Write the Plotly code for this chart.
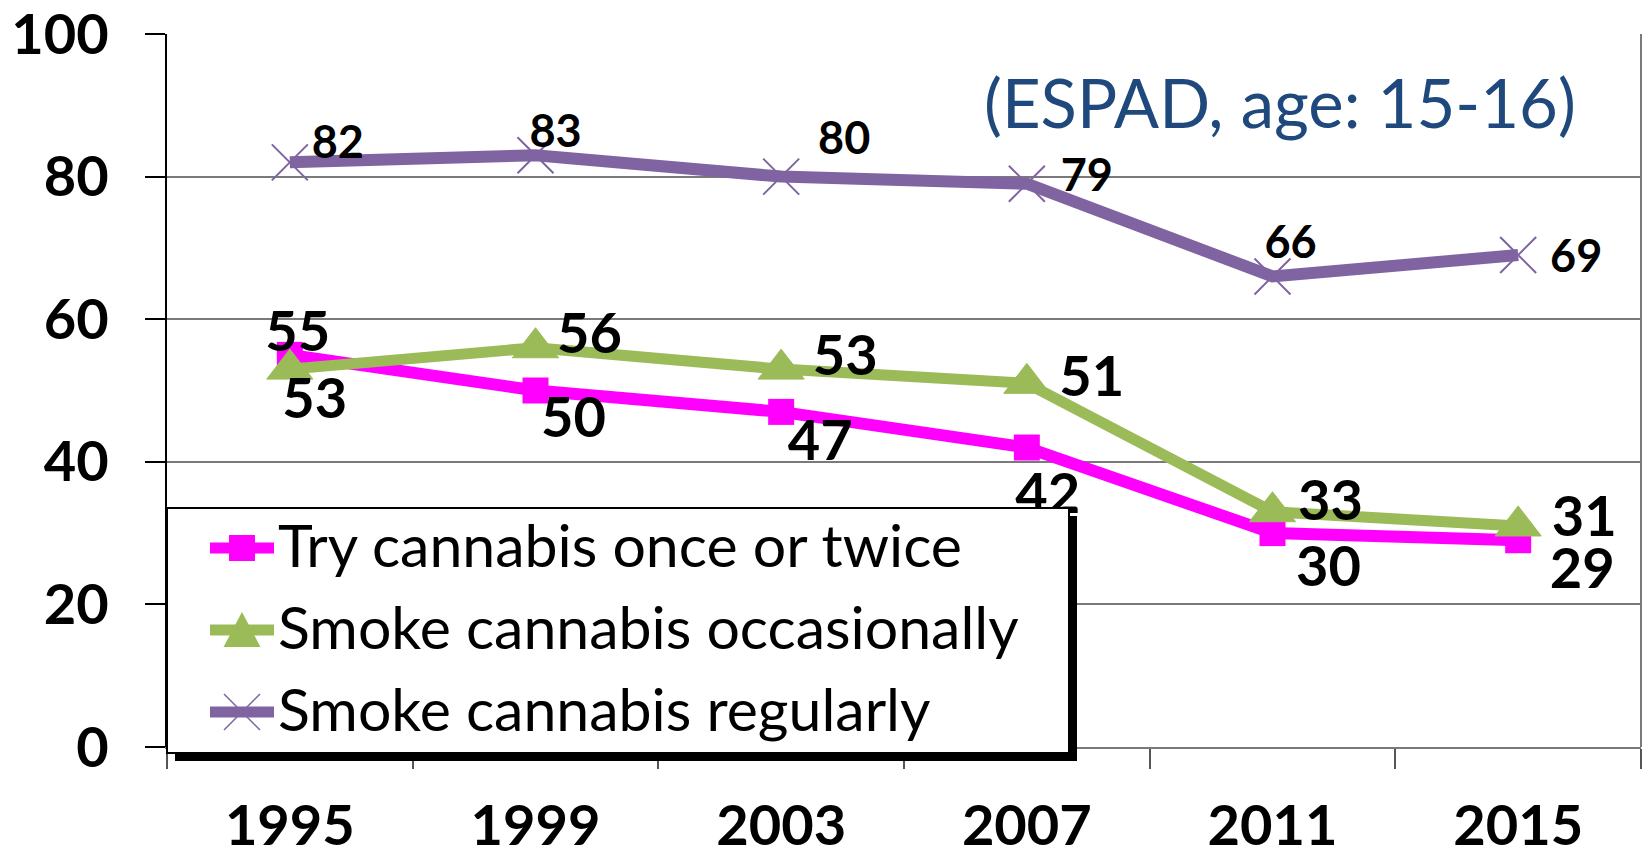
import plotly.graph_objects as go

# ---- data -------------------------------------------------------------
years = ["1995", "1999", "2003", "2007", "2011", "2015"]
try_once = [55, 50, 47, 42, 30, 29]
smoke_occasionally = [53, 56, 53, 51, 33, 31]
smoke_regularly = [82, 83, 80, 79, 66, 69]

series_names = [
    "Try cannabis once or twice",
    "Smoke cannabis occasionally",
    "Smoke cannabis regularly",
]
y_ticks = [0, 20, 40, 60, 80, 100]

# ---- styling ----------------------------------------------------------
PINK = "#FF00FF"
GREEN = "#9BBB59"
PURPLE = "#8064A2"
NAVY = "#1F497D"
GRID = "#7a7a7a"

W, H = 1645, 855
L, R, T, B = 167, 4, 34, 108
plot_w = W - L - R
plot_h = H - T - B
x_unit = plot_w / len(years)          # pixels per category
y_unit = plot_h / (y_ticks[-1] - y_ticks[0])  # pixels per percentage point

# value-label offsets from each marker, in pixels (right, down)
try_label_offsets = [(8, -22), (38, 28), (39, 30), (21, 47), (56, 34), (64, 29)]
occ_label_offsets = [(25, 30), (54, -13), (64, -13), (65, -6), (58, -10), (66, -8)]
reg_label_offsets = [(48, -19), (20, -23), (63, -37), (60, -8), (18, -33), (58, 2)]

xpos = list(range(len(years)))


def px_x(px):
    return (px - L) / plot_w


def px_y(py):
    return (H - B - py) / plot_h


fig = go.Figure()

# ---- series lines -----------------------------------------------------
fig.add_trace(go.Scatter(
    x=xpos, y=try_once, name=series_names[0], mode="lines+markers",
    line=dict(color=PINK, width=12),
    marker=dict(symbol="square", size=26, color=PINK),
    showlegend=False,
))
fig.add_trace(go.Scatter(
    x=xpos, y=smoke_occasionally, name=series_names[1], mode="lines+markers",
    line=dict(color=GREEN, width=11),
    marker=dict(symbol="triangle-up", size=40, color=GREEN,
                line=dict(color=GREEN, width=1)),
    showlegend=False,
))
fig.add_trace(go.Scatter(
    x=xpos, y=smoke_regularly, name=series_names[2], mode="lines+markers",
    line=dict(color=PURPLE, width=12),
    marker=dict(symbol="x-thin-open", size=36, color=PURPLE,
                line=dict(color=PURPLE, width=2)),
    showlegend=False,
))


# ---- value labels -----------------------------------------------------
def label_trace(values, offsets, size):
    # text is centred on its line box, so nudge it down a little to centre the digits
    nudge = 0.08 * size
    return go.Scatter(
        x=[i + dx / x_unit for i, (dx, dy) in zip(xpos, offsets)],
        y=[v - (dy + nudge) / y_unit for v, (dx, dy) in zip(values, offsets)],
        text=[str(v) for v in values],
        mode="text", textposition="middle center",
        textfont=dict(family="Lato", size=size, color="black", weight="bold"),
        cliponaxis=False, showlegend=False, hoverinfo="skip",
    )


fig.add_trace(label_trace(try_once, try_label_offsets, 56))
fig.add_trace(label_trace(smoke_occasionally, occ_label_offsets, 56))
fig.add_trace(label_trace(smoke_regularly, reg_label_offsets, 45))

# ---- legend box (drawn as shapes so it sits over the plot) --------------
box = (167, 508, 1069, 753)
shadow = 8
rows_y = [548, 630, 712]
key_x0, key_x1, key_cx = 210, 274, 242
shapes = [
    dict(type="rect", xref="paper", yref="paper", layer="above",
         x0=px_x(box[0] + shadow), x1=px_x(box[2] + shadow),
         y0=px_y(box[1] + shadow), y1=px_y(box[3] + shadow),
         fillcolor="black", line=dict(width=0)),
    dict(type="rect", xref="paper", yref="paper", layer="above",
         x0=px_x(box[0]), x1=px_x(box[2]), y0=px_y(box[1]), y1=px_y(box[3]),
         fillcolor="white", line=dict(color="black", width=2)),
    # right-hand plot border
    dict(type="line", xref="paper", yref="paper", layer="above",
         x0=1, x1=1, y0=0, y1=1, line=dict(color=GRID, width=2)),
]
for ry, col in zip(rows_y, [PINK, GREEN, PURPLE]):
    shapes.append(dict(type="line", xref="paper", yref="paper", layer="above",
                       x0=px_x(key_x0), x1=px_x(key_x1), y0=px_y(ry), y1=px_y(ry),
                       line=dict(color=col, width=11)))
# key markers
shapes.append(dict(type="rect", xref="paper", yref="paper", layer="above",
                   x0=px_x(key_cx - 13), x1=px_x(key_cx + 13),
                   y0=px_y(rows_y[0] - 13), y1=px_y(rows_y[0] + 13),
                   fillcolor=PINK, line=dict(width=0)))
ty = rows_y[1]
shapes.append(dict(type="path", xref="paper", yref="paper", layer="above",
                   path="M {:.5f},{:.5f} L {:.5f},{:.5f} L {:.5f},{:.5f} Z".format(
                       px_x(key_cx), px_y(ty - 18),
                       px_x(key_cx - 18.5), px_y(ty + 17),
                       px_x(key_cx + 18.5), px_y(ty + 17)),
                   fillcolor=GREEN, line=dict(width=0)))
xy = rows_y[2]
shapes.append(dict(type="path", xref="paper", yref="paper", layer="above",
                   path="M {a:.5f},{b:.5f} L {c:.5f},{d:.5f} M {c:.5f},{b:.5f} L {a:.5f},{d:.5f}".format(
                       a=px_x(key_cx - 18), b=px_y(xy - 18),
                       c=px_x(key_cx + 18), d=px_y(xy + 18)),
                   line=dict(color=PURPLE, width=1.5)))

annotations = []
for ry, name in zip(rows_y, series_names):
    annotations.append(dict(
        xref="paper", yref="paper", x=px_x(276), y=px_y(ry - 4),
        xanchor="left", yanchor="middle", showarrow=False, text=name,
        font=dict(family="Lato", size=59, color="black"),
    ))

annotations.append(dict(
    xref="paper", yref="paper", x=px_x(1578), y=px_y(102),
    xanchor="right", yanchor="middle", showarrow=False,
    text="(ESPAD, age: 15-16)",
    font=dict(family="Lato", size=67, color=NAVY),
))

# ---- layout -----------------------------------------------------------
fig.update_layout(
    width=W, height=H,
    margin=dict(l=L, r=R, t=T, b=B, pad=0, autoexpand=False),
    paper_bgcolor="white", plot_bgcolor="white",
    showlegend=False,
    shapes=shapes, annotations=annotations,
    font=dict(family="Lato", color="black"),
)
fig.update_xaxes(
    range=[-0.5, len(years) - 0.5],
    tickvals=xpos, ticktext=years, ticks="",
    tickfont=dict(family="Lato", size=56, color="black", weight="bold"),
    ticklabelstandoff=29, automargin=False, ticklabeloverflow="allow",
    showline=True, linecolor=GRID, linewidth=2,
    showgrid=False, zeroline=False,
    minor=dict(tickvals=[i - 0.5 for i in range(len(years) + 1)],
               ticks="outside", ticklen=20, tickcolor="#555555", tickwidth=1.5,
               showgrid=False),
)
fig.update_yaxes(
    range=[y_ticks[0], y_ticks[-1]], tickvals=y_ticks,
    ticks="outside", ticklen=20, tickcolor="black", tickwidth=1.5,
    tickfont=dict(family="Lato", size=56, color="black", weight="bold"),
    ticklabelstandoff=25, automargin=False, ticklabeloverflow="allow",
    showline=True, linecolor="black", linewidth=2,
    showgrid=True, gridcolor=GRID, gridwidth=1.5, zeroline=False,
)

fig.write_html("out.html")
